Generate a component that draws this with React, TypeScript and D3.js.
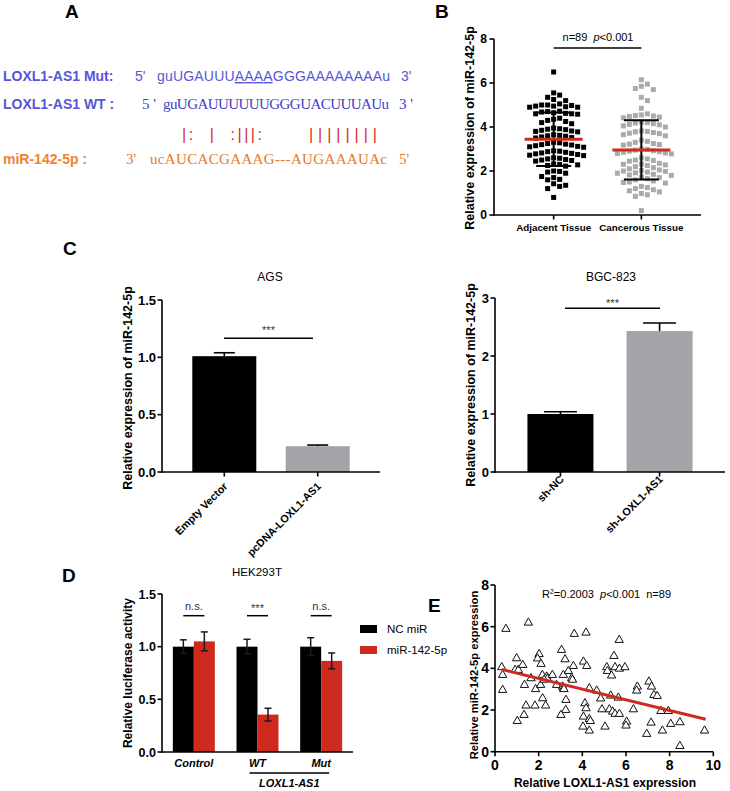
import React from 'react';
import * as d3 from 'd3';

const SANS = '"Liberation Sans", Arial, Helvetica, sans-serif';
const SERIF = '"Liberation Serif", "Times New Roman", serif';

// ---------------- Panel A : sequences ----------------
const seqLabels = ['LOXL1-AS1 Mut:', 'LOXL1-AS1 WT :', 'miR-142-5p :'];
const mutSeqParts = ['guUGAUUU', 'AAAA', 'GGGAAAAAAAAu'];
const wtSeq = 'guUGAUUUUUUGGGUACUUUAUu';
const mirSeq = 'ucAUCACGAAAG---AUGAAAUAc';
const pairMarks = ['|:  |  :|||:', '||||||||'];
const endLabels = [["5'", "3'"], ["5 '", "3 '"], ["3'", "5'"]];

// ---------------- Panel B : scatter ----------------
const bCategories = ['Adjacent Tissue', 'Cancerous Tissue'];
const adjacentValues = [
  6.5, 5.55, 5.45, 5.35, 5.25, 5.2,
  5.05, 5.0, 5.0, 4.98, 4.95, 4.95, 4.92, 4.9, 4.9,
  4.72, 4.7, 4.68, 4.65, 4.62, 4.6, 4.6, 4.58,
  4.4, 4.35, 4.3, 4.25, 4.2, 4.15,
  3.95, 3.92, 3.9, 3.88, 3.85, 3.82, 3.8, 3.78,
  3.65, 3.62, 3.6, 3.58, 3.55, 3.52, 3.5,
  3.3, 3.28, 3.25, 3.22, 3.2, 3.18, 3.15, 3.12, 3.1, 3.08,
  2.92, 2.9, 2.88, 2.85, 2.82, 2.8, 2.78, 2.75, 2.72, 2.7,
  2.6, 2.58, 2.55, 2.52, 2.5, 2.48, 2.45,
  2.32, 2.3, 2.28, 2.25, 2.22,
  2.0, 1.98, 1.95, 1.9,
  1.75, 1.7, 1.62, 1.6,
  1.42, 1.35, 1.3,
  1.2, 0.8,
];
const cancerousValues = [
  6.15, 5.95, 5.85, 5.75, 5.7, 5.35, 5.2,
  4.85, 4.6, 4.55, 4.52, 4.5, 4.48, 4.45, 4.42,
  4.22, 4.2, 4.18, 4.15, 4.12, 4.1, 4.05, 4.0,
  3.82, 3.8, 3.78, 3.75, 3.72, 3.7, 3.65, 3.6,
  3.4, 3.35, 3.3, 3.25, 3.22, 3.2, 3.18,
  3.0, 2.98, 2.95, 2.92, 2.9, 2.88, 2.85, 2.82, 2.8, 2.78,
  2.6, 2.55, 2.5, 2.48, 2.45,
  2.35, 2.32, 2.3, 2.28, 2.25,
  2.2, 2.15, 2.1, 2.05, 2.02, 2.0, 1.98, 1.95, 1.92, 1.9,
  1.85, 1.82, 1.8,
  1.72, 1.7, 1.65, 1.6, 1.55, 1.5, 1.48, 1.45,
  1.3, 1.25, 1.2, 1.15, 1.1, 1.05,
  0.98, 0.92, 0.85,
  0.2,
];
const bTicks = [0, 2, 4, 6, 8];

// ---------------- Panel C : bars ----------------
const agsCategories = ['Empty Vector', 'pcDNA-LOXL1-AS1'];
const agsMeans = [1.01, 0.225];
const agsErrors = [0.03, 0.01];
const agsTicks = [0, 0.5, 1.0, 1.5];
const bgcCategories = ['sh-NC', 'sh-LOXL1-AS1'];
const bgcMeans = [1.0, 2.43];
const bgcErrors = [0.04, 0.14];
const bgcTicks = [0, 1, 2, 3];

// ---------------- Panel D : grouped bars ----------------
const dGroups = ['Control', 'WT', 'Mut'];
const dSeries = ['NC miR', 'miR-142-5p'];
const ncMeans = [1.0, 1.0, 1.0];
const ncErrors = [0.065, 0.07, 0.085];
const mirMeans = [1.05, 0.355, 0.865];
const mirErrors = [0.09, 0.06, 0.075];
const dSignificance = ['n.s.', '***', 'n.s.'];
const dTicks = [0, 0.5, 1.0, 1.5];

// ---------------- Panel E : correlation ----------------
const eLoxl = [
  0.5, 1.53, 0.31, 0.35, 0.35, 0.99, 0.92, 1.07, 1.27, 1.35,
  1.42, 1.33, 1.02, 1.65, 1.83, 1.86, 2.02, 1.95, 2.11, 2.09,
  2.17, 2.18, 2.32, 2.37, 2.4, 2.63, 2.82, 3.05, 3.21, 3.13,
  3.1, 3.13, 3.16, 3.25, 3.24, 3.02, 3.36, 3.51, 3.59, 3.63,
  4.17, 4.05, 4.2, 4.32, 4.12, 4.17, 4.05, 4.32, 4.03, 4.32,
  3.55, 4.66, 4.84, 4.9, 5.04, 5.12, 5.15, 5.34, 5.45, 5.5,
  5.7, 5.69, 5.95, 5.3, 5.65, 5.24, 5.39, 5.5, 5.7, 6.03,
  6.0, 6.34, 6.52, 6.49, 7.05, 7.17, 7.28, 7.43, 7.6, 7.94,
  7.15, 6.95, 7.67, 8.05, 8.47, 8.47, 9.6, 4.37, 2.25,
];
const eMir = [
  5.89, 6.19, 4.05, 3.68, 2.96, 4.48, 3.92, 3.92, 4.16, 3.2,
  2.21, 1.76, 1.47, 3.52, 2.21, 3.0, 4.68, 4.47, 4.21, 3.2,
  3.68, 2.56, 2.21, 3.6, 3.5, 3.68, 3.2, 4.88, 4.43, 3.68,
  3.12, 3.04, 3.0, 2.48, 2.0, 1.76, 3.87, 3.52, 4.11, 5.65,
  5.71, 4.32, 4.11, 3.04, 2.32, 2.08, 1.68, 1.56, 1.2, 1.01,
  3.45, 2.93, 2.55, 2.03, 1.2, 4.05, 3.87, 3.65, 4.59, 4.05,
  3.98, 5.36, 4.05, 2.69, 2.59, 2.03, 1.92, 1.81, 1.81, 1.44,
  1.25, 2.03, 3.12, 2.93, 3.36, 3.12, 2.72, 2.67, 1.95, 1.95,
  1.39, 0.85, 1.01, 1.33, 1.41, 0.27, 1.01, 1.47, 3.45,
];
const eFitX = [0.3, 9.65];
const eFitY = [3.95, 1.56];
const eXTicks = [0, 2, 4, 6, 8, 10];
const eYTicks = [0, 2, 4, 6, 8];

const RED = '#cf2a1f';
const GRAY_BAR = '#a4a4a8';
const GRAY_PT = '#aaaaaa';
const AX = 1.6;

type Lin = d3.ScaleLinear<number, number>;

function YAxis({ x, y, ticks, fmt, fs, gap = 6 }: { x: number; y: Lin; ticks: number[]; fmt: (v: number) => string; fs: number; gap?: number }) {
  const [r0, r1] = y.range();
  return (
    <g>
      <line x1={x} x2={x} y1={r0 + AX / 2} y2={r1} stroke="#000" strokeWidth={AX} />
      {ticks.map((t) => (
        <g key={t}>
          <line x1={x - 4.5} x2={x} y1={y(t)} y2={y(t)} stroke="#000" strokeWidth={AX} />
          <text x={x - gap} y={y(t)} dy="0.36em" textAnchor="end" fontSize={fs} fontWeight="bold">
            {fmt(t)}
          </text>
        </g>
      ))}
    </g>
  );
}

function XAxisLine({ x0, x1, y, ticks }: { x0: number; x1: number; y: number; ticks: number[] }) {
  return (
    <g>
      <line x1={x0 - AX / 2} x2={x1} y1={y} y2={y} stroke="#000" strokeWidth={AX} />
      {ticks.map((t, i) => (
        <line key={i} x1={t} x2={t} y1={y} y2={y + 4.5} stroke="#000" strokeWidth={AX} />
      ))}
    </g>
  );
}

function VLabel({ x, y, text, fs }: { x: number; y: number; text: string; fs: number }) {
  return (
    <text transform={`translate(${x},${y}) rotate(-90)`} textAnchor="middle" dy="0.35em" fontSize={fs} fontWeight="bold">
      {text}
    </text>
  );
}

function swarm(vals: number[], y: Lin, step: number, dist: number) {
  const pts = vals.map((v) => ({ v, py: y(v), dx: 0 })).sort((a, b) => a.py - b.py);
  const placed: { py: number; dx: number }[] = [];
  for (const p of pts) {
    for (let k = 0; k < 60; k++) {
      const m = Math.ceil(k / 2);
      const dx = k === 0 ? 0 : k % 2 === 1 ? m * step : -m * step;
      if (!placed.some((q) => Math.abs(q.py - p.py) < dist && Math.abs(q.dx - dx) < dist)) {
        p.dx = dx;
        break;
      }
    }
    placed.push(p);
  }
  return pts;
}

function PanelA() {
  const c1 = '#5656d8';
  const c2 = '#4040cc';
  const c3 = '#ee8430';
  return (
    <g>
      <text x={65} y={18} fontSize={19} fontWeight="bold">A</text>
      <text x={3} y={81} fontSize={14} fontWeight="bold" fill={c1}>{seqLabels[0]}</text>
      <text x={135} y={81} fontSize={14} fill={c1}>{endLabels[0][0]}</text>
      <text x={157} y={81} fontSize={14} fill={c1} textLength={233} lengthAdjust="spacing">
        <tspan>{mutSeqParts[0]}</tspan>
        <tspan style={{ textDecoration: 'underline' }}>{mutSeqParts[1]}</tspan>
        <tspan>{mutSeqParts[2]}</tspan>
      </text>
      <text x={401} y={81} fontSize={14} fill={c1}>{endLabels[0][1]}</text>

      <text x={3} y={109} fontSize={14} fontWeight="bold" fill={c1}>{seqLabels[1]}</text>
      <text x={142} y={109} fontSize={15} fill={c2} fontFamily={SERIF} style={{ whiteSpace: 'pre' }}>{endLabels[1][0]}</text>
      <text x={163} y={109} fontSize={15} fill={c2} fontFamily={SERIF} textLength={226} lengthAdjust="spacing">{wtSeq}</text>
      <text x={399} y={109} fontSize={15} fill={c2} fontFamily={SERIF} style={{ whiteSpace: 'pre' }}>{endLabels[1][1]}</text>

      <text x={182} y={140} fontSize={16} fill="#cc3030" style={{ whiteSpace: 'pre' }} textLength={80} lengthAdjust="spacing">{pairMarks[0]}</text>
      <text x={309} y={140} fontSize={16} fill="#cc3030" textLength={68} lengthAdjust="spacing">{pairMarks[1]}</text>

      <text x={3} y={164} fontSize={14} fontWeight="bold" fill={c3}>{seqLabels[2]}</text>
      <text x={126} y={164} fontSize={15} fill="#e57a2a" fontFamily={SERIF}>{endLabels[2][0]}</text>
      <text x={150} y={164} fontSize={15} fill="#e57a2a" fontFamily={SERIF} textLength={237} lengthAdjust="spacing">{mirSeq}</text>
      <text x={399} y={164} fontSize={15} fill="#e57a2a" fontFamily={SERIF}>{endLabels[2][1]}</text>
    </g>
  );
}

function PanelB() {
  const y = d3.scaleLinear().domain([0, 8]).range([215, 39]);
  const x = d3.scalePoint<string>().domain(bCategories).range([494, 701]).padding(0.68);
  const groups = [
    { vals: adjacentValues, color: '#000' },
    { vals: cancerousValues, color: GRAY_PT },
  ];
  return (
    <g>
      <text x={435} y={18} fontSize={19} fontWeight="bold">B</text>
      {groups.map((g, gi) => {
        const cx = x(bCategories[gi])!;
        const pts = swarm(g.vals, y, 6, 6);
        const mean = d3.mean(g.vals)!;
        const sd = d3.deviation(g.vals)!;
        return (
          <g key={gi}>
            {pts.map((p, i) => (
              <rect key={i} x={cx + p.dx - 2.5} y={p.py - 2.5} width={5} height={5} fill={g.color} />
            ))}
            <line x1={cx} x2={cx} y1={y(mean - sd)} y2={y(mean + sd)} stroke="#000" strokeWidth={2} />
            <line x1={cx - 17.5} x2={cx + 17.5} y1={y(mean - sd)} y2={y(mean - sd)} stroke="#000" strokeWidth={2} />
            <line x1={cx - 17.5} x2={cx + 17.5} y1={y(mean + sd)} y2={y(mean + sd)} stroke="#000" strokeWidth={2} />
            <line x1={cx - 29} x2={cx + 29} y1={y(mean)} y2={y(mean)} stroke={RED} strokeWidth={3} />
          </g>
        );
      })}
      <YAxis x={494} y={y} ticks={bTicks} fmt={(v) => String(v)} fs={12} gap={7} />
      <XAxisLine x0={494} x1={701} y={215} ticks={bCategories.map((c) => x(c)!)} />
      {bCategories.map((c) => (
        <text key={c} x={x(c)!} y={231} textAnchor="middle" fontSize={9.8} fontWeight="bold">{c}</text>
      ))}
      <VLabel x={470} y={128} text="Relative expression of miR-142-5p" fs={12.5} />
      <text x={598} y={41} textAnchor="middle" fontSize={11} style={{ whiteSpace: 'pre' }}>
        <tspan>n=89  </tspan>
        <tspan fontStyle="italic">p</tspan>
        <tspan>&lt;0.001</tspan>
      </text>
      <line x1={x(bCategories[0])!} x2={x(bCategories[1])!} y1={48} y2={48} stroke="#000" strokeWidth={1.6} />
    </g>
  );
}

function BarPanel({ cats, means, errs, ticks, fmt, x0, x1, pad, bw, cap, title, titleX, letter, labelX, labelY, sigY, sigTextY, sigX0, sigX1, rotDy, ymax }: any) {
  const y = d3.scaleLinear().domain([0, ymax]).range([472, ymax === 3 ? 298 : 300]);
  const x = d3.scalePoint<string>().domain(cats).range([x0, x1]).padding(pad);
  const colors = ['#000', GRAY_BAR];
  return (
    <g>
      {letter}
      <text x={titleX} y={281} textAnchor="middle" fontSize={12}>{title}</text>
      {cats.map((c: string, i: number) => {
        const cx = x(c)!;
        return (
          <g key={c}>
            <rect x={cx - bw / 2} y={y(means[i])} width={bw} height={y(0) - y(means[i])} fill={colors[i]} />
            <line x1={cx} x2={cx} y1={y(means[i])} y2={y(means[i] + errs[i])} stroke="#000" strokeWidth={1.6} />
            <line x1={cx - cap} x2={cx + cap} y1={y(means[i] + errs[i])} y2={y(means[i] + errs[i])} stroke="#000" strokeWidth={1.6} />
          </g>
        );
      })}
      <YAxis x={x0} y={y} ticks={ticks} fmt={fmt} fs={13} gap={6} />
      <XAxisLine x0={x0} x1={x1} y={472} ticks={cats.map((c: string) => x(c)!)} />
      {cats.map((c: string) => (
        <text key={c} transform={`translate(${x(c)! + 4},${472 + rotDy}) rotate(-45)`} textAnchor="end" fontSize={10.8} fontWeight="bold">{c}</text>
      ))}
      <VLabel x={labelX} y={labelY} text="Relative expression of miR-142-5p" fs={12.5} />
      <text x={(sigX0 + sigX1) / 2} y={sigTextY} textAnchor="middle" fontSize={11} fill="#333">***</text>
      <line x1={sigX0} x2={sigX1} y1={sigY} y2={sigY} stroke="#000" strokeWidth={1.6} />
    </g>
  );
}

function PanelD() {
  const y = d3.scaleLinear().domain([0, 1.5]).range([752, 594]);
  const x = d3.scalePoint<string>().domain(dGroups).range([162, 353]).padding(0.5);
  const bw = 21;
  const series = [
    { means: ncMeans, errs: ncErrors, color: '#000', off: -bw / 2 },
    { means: mirMeans, errs: mirErrors, color: RED, off: bw / 2 },
  ];
  return (
    <g>
      <text x={62} y={582} fontSize={19} fontWeight="bold">D</text>
      <text x={257} y={576} textAnchor="middle" fontSize={11.5}>HEK293T</text>
      {dGroups.map((g, gi) => {
        const cx = x(g)!;
        return (
          <g key={g}>
            {series.map((s, si) => {
              const bx = cx + s.off;
              const m = s.means[gi];
              const e = s.errs[gi];
              return (
                <g key={si}>
                  <rect x={bx - bw / 2} y={y(m)} width={bw} height={y(0) - y(m)} fill={s.color} />
                  <line x1={bx} x2={bx} y1={y(m - e)} y2={y(m + e)} stroke="#1a1a1a" strokeWidth={1.5} />
                  <line x1={bx - 3.5} x2={bx + 3.5} y1={y(m - e)} y2={y(m - e)} stroke="#1a1a1a" strokeWidth={1.5} />
                  <line x1={bx - 3.5} x2={bx + 3.5} y1={y(m + e)} y2={y(m + e)} stroke="#1a1a1a" strokeWidth={1.5} />
                </g>
              );
            })}
            <text x={cx} y={dSignificance[gi] === '***' ? 612 : 609.5} textAnchor="middle" fontSize={11} fill="#333">{dSignificance[gi]}</text>
            <line x1={cx - bw / 2} x2={cx + bw / 2} y1={615.7} y2={615.7} stroke="#000" strokeWidth={1.5} />
            <text x={cx} y={767} textAnchor="middle" fontSize={11} fontWeight="bold" fontStyle="italic">{g}</text>
          </g>
        );
      })}
      <YAxis x={162} y={y} ticks={dTicks} fmt={(v) => v.toFixed(1)} fs={12.5} gap={6} />
      <XAxisLine x0={162} x1={353} y={752} ticks={[]} />
      <line x1={x('WT')! - 8} x2={x('Mut')! + 8} y1={773} y2={773} stroke="#000" strokeWidth={1.3} />
      <text x={(x('WT')! + x('Mut')!) / 2} y={787} textAnchor="middle" fontSize={11} fontWeight="bold" fontStyle="italic">LOXL1-AS1</text>
      <VLabel x={128} y={673} text="Relative luciferase activity" fs={12} />
      {dSeries.map((s, i) => (
        <g key={s}>
          <rect x={360} y={625 + i * 21} width={17} height={8} fill={i === 0 ? '#000' : RED} />
          <text x={387} y={633 + i * 21} fontSize={11.5}>{s}</text>
        </g>
      ))}
    </g>
  );
}

function PanelE() {
  const x = d3.scaleLinear().domain([0, 10]).range([495, 713.3]);
  const y = d3.scaleLinear().domain([0, 8]).range([751.7, 585]);
  const tri = d3.symbol(d3.symbolTriangle, 30)()!;
  const fit = d3.line<number>().x((_, i) => x(eFitX[i])).y((_, i) => y(eFitY[i]));
  return (
    <g>
      <text x={428} y={612} fontSize={19} fontWeight="bold">E</text>
      {eLoxl.map((v, i) => (
        <path key={i} d={tri} transform={`translate(${x(v)},${y(eMir[i])})`} fill="#fff" stroke="#111" strokeWidth={1} />
      ))}
      <path d={fit(eFitX)!} stroke={RED} strokeWidth={3} fill="none" />
      <YAxis x={495} y={y} ticks={eYTicks} fmt={(v) => String(v)} fs={14} gap={6} />
      <XAxisLine x0={495} x1={713.3} y={751.7} ticks={eXTicks.map((t) => x(t))} />
      {eXTicks.map((t) => (
        <text key={t} x={x(t)} y={770} textAnchor="middle" fontSize={14} fontWeight="bold">{t}</text>
      ))}
      <text x={605} y={787} textAnchor="middle" fontSize={12} fontWeight="bold">Relative LOXL1-AS1 expression</text>
      <VLabel x={474} y={675} text="Relative miR-142-5p expression" fs={11.2} />
      <text x={542} y={598} fontSize={11} style={{ whiteSpace: 'pre' }}>
        <tspan>R</tspan>
        <tspan fontSize={7} dy={-4}>2</tspan>
        <tspan dy={4}>=0.2003  </tspan>
        <tspan fontStyle="italic">p</tspan>
        <tspan>&lt;0.001  n=89</tspan>
      </text>
    </g>
  );
}

export default function App() {
  return (
    <svg width={730} height={791} viewBox="0 0 730 791" style={{ position: 'absolute', left: 0, top: 0 }} fontFamily={SANS}>
      <rect width={730} height={791} fill="#fff" />
      <PanelA />
      <PanelB />
      <BarPanel
        cats={agsCategories} means={agsMeans} errs={agsErrors} ticks={agsTicks} fmt={(v: number) => v.toFixed(1)}
        x0={162} x1={380} pad={0.667} bw={64} cap={10.5} title="AGS" titleX={270}
        letter={<text x={63} y={255} fontSize={19} fontWeight="bold">C</text>}
        labelX={128} labelY={388} sigY={338.3} sigTextY={334} sigX0={224} sigX1={313} rotDy={15} ymax={1.5}
      />
      <BarPanel
        cats={bgcCategories} means={bgcMeans} errs={bgcErrors} ticks={bgcTicks} fmt={(v: number) => String(v)}
        x0={495} x1={725} pad={0.66} bw={66} cap={16.5} title="BGC-823" titleX={611}
        letter={null}
        labelX={471} labelY={385} sigY={308.3} sigTextY={306.5} sigX0={565} sigX1={660} rotDy={8} ymax={3}
      />
      <PanelD />
      <PanelE />
    </svg>
  );
}
